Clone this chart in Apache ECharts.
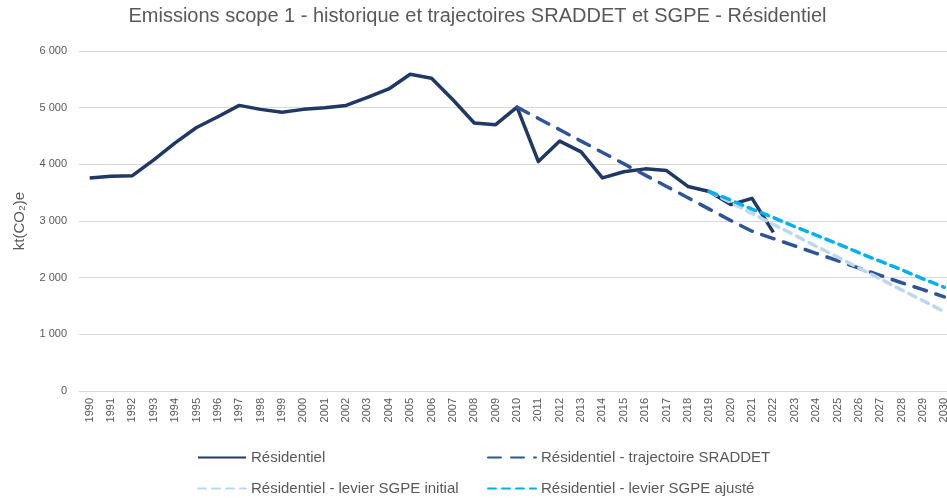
<!DOCTYPE html>
<html>
<head>
<meta charset="utf-8">
<script src="https://cdn.jsdelivr.net/npm/echarts@6/dist/echarts.min.js"></script>
<style>
html, body { margin: 0; padding: 0; background: #fff; overflow: hidden; }
/* le graphique d'origine est rogné à droite : conteneur un peu plus large que la fenêtre */
#main { width: 955px; height: 498px; }
</style>
</head>
<body>
<div id="main"></div>
<script>
// années 1990 - 2030
var years = ['1990','1991','1992','1993','1994','1995','1996','1997','1998','1999',
  '2000','2001','2002','2003','2004','2005','2006','2007','2008','2009',
  '2010','2011','2012','2013','2014','2015','2016','2017','2018','2019',
  '2020','2021','2022','2023','2024','2025','2026','2027','2028','2029','2030'];

// historique (kt CO2e)
var residentiel = [3760, 3790, 3800, 4080, 4380, 4650, 4840, 5040, 4970, 4920,
  4970, 5000, 5040, 5180, 5330, 5590, 5520, 5140, 4730, 4700,
  5010, 4050, 4410, 4220, 3760, 3870, 3920, 3890, 3610, 3520,
  3290, 3400, 2800];

// trajectoire SRADDET (à partir de 2010)
var sraddet = [5010, 4810, 4610, 4410, 4210, 4010, 3810, 3610, 3410, 3210,
  3010, 2820, 2690, 2560, 2430, 2300, 2170, 2040, 1910, 1790, 1660];

// leviers SGPE (à partir de 2019)
var sgpeInitial = [3520, 3330, 3135, 2940, 2750, 2555, 2365, 2170, 1980, 1785, 1595, 1400];
var sgpeAjuste = [3520, 3370, 3210, 3060, 2900, 2750, 2600, 2440, 2290, 2140, 1980, 1830];

var names = ['Résidentiel', 'Résidentiel - trajectoire SRADDET',
  'Résidentiel - levier SGPE initial', 'Résidentiel - levier SGPE ajusté'];

function pad(arr, startYear) {
  var out = [];
  var off = years.indexOf(startYear);
  for (var i = 0; i < years.length; i++) {
    var j = i - off;
    out.push(j >= 0 && j < arr.length ? arr[j] : null);
  }
  return out;
}

var font = '"Liberation Sans", Arial, sans-serif';
var grey = '#595959';

// une légende par entrée pour placer les 2 colonnes x 2 lignes
function leg(name, left, top) {
  return {
    data: [name],
    left: left, top: top,
    padding: 0,
    itemWidth: 48, itemHeight: 14,
    itemStyle: { opacity: 0 },
    textStyle: { color: grey, fontSize: 15, fontFamily: font }
  };
}

var chart = echarts.init(document.getElementById('main'));
chart.setOption({
  animation: false,
  textStyle: { fontFamily: font },
  title: {
    text: 'Emissions scope 1 - historique et trajectoires SRADDET et SGPE - Résidentiel',
    left: 'center',
    top: 1,
    textStyle: { fontFamily: font, fontSize: 20, fontWeight: 'normal', color: grey }
  },
  legend: [
    leg(names[0], 197, 450),
    leg(names[1], 487, 450),
    leg(names[2], 197, 481),
    leg(names[3], 487, 481)
  ],
  grid: { left: 79, top: 51, right: 0, bottom: 107, containLabel: false },
  xAxis: {
    type: 'category',
    data: years,
    boundaryGap: true,
    axisLine: { lineStyle: { color: '#d9d9d9', width: 1 } },
    axisTick: { show: false },
    axisLabel: { rotate: 90, fontSize: 11, color: grey, margin: 7, interval: 0 }
  },
  yAxis: {
    type: 'value',
    min: 0, max: 6000, interval: 1000,
    name: 'kt(CO₂)e',
    nameLocation: 'middle',
    nameRotate: 90,
    nameGap: 52,
    nameTextStyle: { color: grey, fontSize: 15, fontFamily: font },
    axisLine: { show: false },
    axisTick: { show: false },
    axisLabel: {
      color: grey, fontSize: 11, margin: 12,
      formatter: function (v) { return String(v).replace(/\B(?=(\d{3})+(?!\d))/g, ' '); }
    },
    splitLine: { lineStyle: { color: '#d9d9d9', width: 1 } }
  },
  series: [
    {
      name: names[0], type: 'line', data: pad(residentiel, '1990'),
      symbol: 'none', color: '#1f3864',
      lineStyle: { width: 3.5, color: '#1f3864', join: 'round' }, z: 2
    },
    {
      name: names[1], type: 'line', data: pad(sraddet, '2010'),
      symbol: 'none', color: '#2f5597',
      lineStyle: { width: 3.5, color: '#2f5597', type: [13, 10], cap: 'round' }, z: 3
    },
    {
      name: names[2], type: 'line', data: pad(sgpeInitial, '2019'),
      symbol: 'none', color: '#bdd7ee',
      lineStyle: { width: 3.5, color: '#bdd7ee', type: [8, 6], cap: 'round' }, z: 4
    },
    {
      name: names[3], type: 'line', data: pad(sgpeAjuste, '2019'),
      symbol: 'none', color: '#00b0f0',
      lineStyle: { width: 3.5, color: '#00b0f0', type: [8, 6], cap: 'round' }, z: 5
    }
  ]
});
</script>
</body>
</html>
